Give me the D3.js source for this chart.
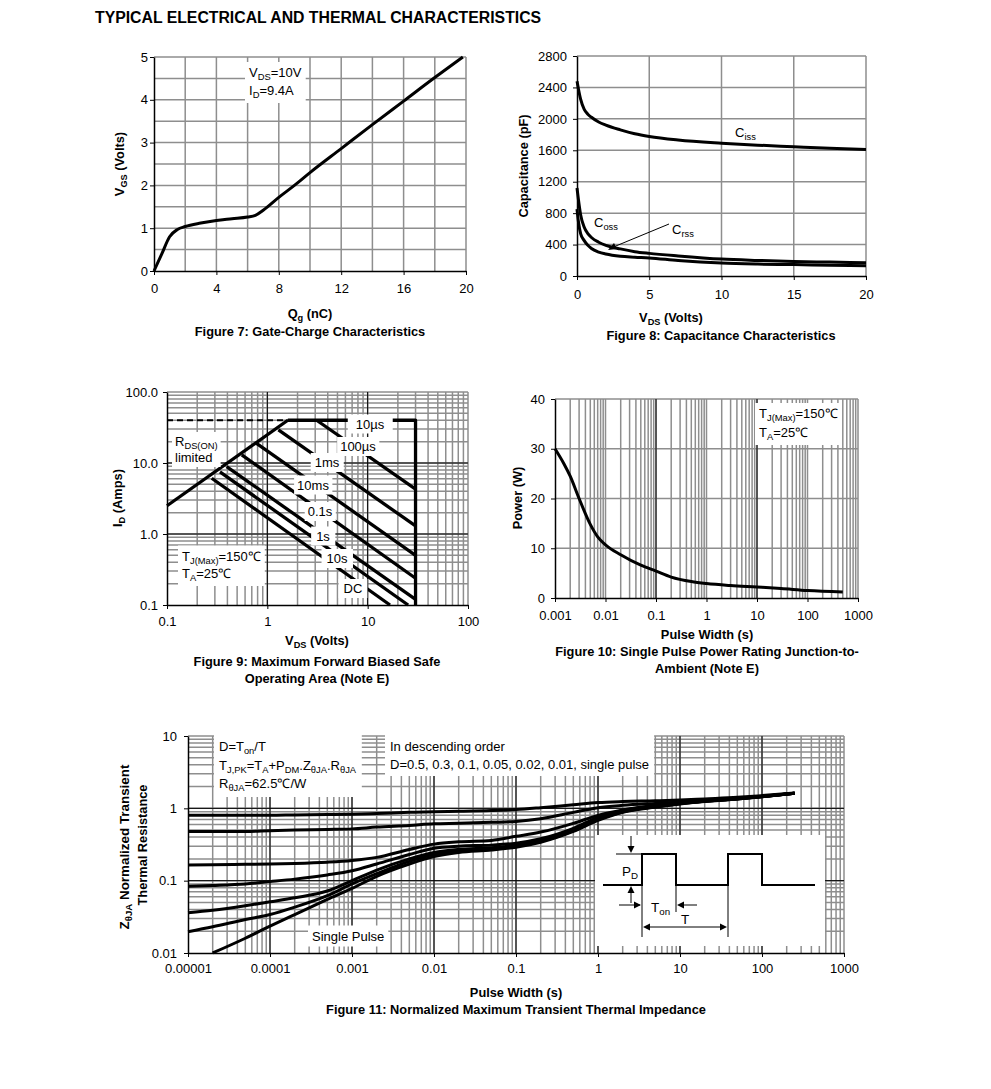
<!DOCTYPE html>
<html>
<head>
<meta charset="utf-8">
<script src="https://cdn.jsdelivr.net/npm/d3@7"></script>
<style>
  body { margin: 0; background: #fff; }
</style>
</head>
<body>
<div id="chart"></div>
<script>
const FONT = "'Liberation Sans', Arial, Helvetica, sans-serif";
const FS = 13;      // normal text
const FB = 12.8;    // bold titles

// ---- Figure 7: gate charge
const qgCharge = [0, 0.5, 1, 1.5, 2, 3, 4, 5, 6, 6.5, 7, 8, 9, 10, 12, 14, 16, 18, 19.8];
const vgsVolts = [0, 0.4, 0.8, 0.97, 1.04, 1.12, 1.18, 1.22, 1.26, 1.3, 1.42, 1.72, 2.0, 2.3, 2.86, 3.42, 3.97, 4.52, 5.0];

// ---- Figure 8: capacitance
const vdsCap = [0, 0.1, 0.25, 0.5, 0.75, 1, 1.5, 2, 3, 4, 5, 7, 10, 12.5, 15, 17.5, 20];
const cissPf = [2480, 2380, 2250, 2120, 2060, 2020, 1960, 1920, 1860, 1810, 1775, 1730, 1690, 1665, 1645, 1625, 1610];
const cossPf = [1120, 970, 780, 620, 540, 490, 430, 390, 345, 310, 288, 255, 215, 198, 185, 177, 170];
const crssPf = [850, 690, 540, 450, 390, 350, 305, 280, 252, 240, 230, 198, 165, 152, 145, 137, 130];

// ---- Figure 9: safe operating area
const rdsV = [0.1, 1.6];
const rdsI = [2.5, 40];
const limitV = [1.6, 30, 30];
const limitI = [40, 40, 0.1];
const dashV = [0.1, 1.6];
const dashI = [40, 40];
const soaNames = ["100µs", "1ms", "10ms", "0.1s", "1s", "10s", "DC"];
const soaStartV = [3.1, 1.29, 0.78, 0.556, 0.393, 0.337, 0.279];
const soaStartI = [40, 29.2, 18.9, 13, 8.9, 7.5, 6.1];
const soaEndV = [30, 30, 30, 30, 30, 25.3, 16.7];
const soaEndI = [4.3, 1.3, 0.5, 0.238, 0.12, 0.1, 0.1];

// ---- Figure 10: single pulse power
const pulseW = [0.001, 0.0015, 0.002, 0.003, 0.005, 0.007, 0.01, 0.02, 0.05, 0.1, 0.2, 0.5, 1, 3, 10, 30, 100, 500];
const powerW = [30, 27, 24.5, 20, 14.8, 12.3, 10.7, 8.7, 6.6, 5.4, 4.2, 3.3, 2.9, 2.5, 2.2, 1.9, 1.5, 1.2];

// ---- Figure 11: transient thermal impedance
const zthT = [1e-5, 2e-5, 5e-5, 1e-4, 2e-4, 5e-4, 1e-3, 2e-3, 5e-3, 1e-2, 2e-2, 5e-2, 0.1, 0.2, 0.5, 1, 2, 5, 10, 20, 50, 100, 250];
const zthD05 = [0.8, 0.8, 0.8, 0.8, 0.81, 0.82, 0.83, 0.85, 0.88, 0.9, 0.91, 0.93, 0.96, 1.02, 1.12, 1.2, 1.24, 1.27, 1.3, 1.35, 1.42, 1.5, 1.63];
const zthD03 = [0.48, 0.48, 0.48, 0.49, 0.5, 0.51, 0.52, 0.55, 0.58, 0.61, 0.62, 0.64, 0.66, 0.72, 0.88, 1.02, 1.1, 1.17, 1.22, 1.28, 1.38, 1.47, 1.62];
const zthD01 = [0.165, 0.166, 0.168, 0.17, 0.173, 0.18, 0.19, 0.21, 0.27, 0.32, 0.345, 0.36, 0.41, 0.47, 0.62, 0.8, 0.95, 1.1, 1.2, 1.27, 1.37, 1.46, 1.62];
const zthD005 = [0.084, 0.086, 0.09, 0.097, 0.105, 0.12, 0.137, 0.17, 0.23, 0.28, 0.3, 0.31, 0.33, 0.38, 0.53, 0.75, 0.93, 1.08, 1.18, 1.26, 1.36, 1.46, 1.62];
const zthD002 = [0.036, 0.039, 0.045, 0.051, 0.058, 0.072, 0.1, 0.14, 0.2, 0.245, 0.27, 0.285, 0.31, 0.36, 0.5, 0.72, 0.9, 1.06, 1.17, 1.25, 1.36, 1.46, 1.62];
const zthD001 = [0.0197, 0.023, 0.029, 0.034, 0.043, 0.062, 0.09, 0.125, 0.185, 0.23, 0.255, 0.27, 0.3, 0.35, 0.49, 0.7, 0.89, 1.05, 1.16, 1.25, 1.35, 1.45, 1.62];
const singleT = [2e-5, 5e-5, 1e-4, 2e-4, 5e-4, 1e-3, 2e-3, 5e-3, 1e-2, 2e-2, 5e-2, 0.1, 0.2, 0.5, 1, 2, 5, 10, 20, 50, 100, 250];
const singleZ = [0.01, 0.016, 0.0235, 0.034, 0.055, 0.078, 0.115, 0.17, 0.215, 0.245, 0.265, 0.29, 0.34, 0.48, 0.68, 0.88, 1.04, 1.15, 1.24, 1.35, 1.45, 1.62];

const svg = d3.select("#chart").append("svg")
  .attr("width", 991).attr("height", 1089)
  .style("font-family", FONT);

svg.append("text").attr("x", 95).attr("y", 23)
  .attr("font-size", 15.8).attr("font-weight", "bold")
  .text("TYPICAL ELECTRICAL AND THERMAL CHARACTERISTICS");

// text with _{subscript} markup
function rich(t, str, size) {
  let shift = 0;
  str.split(/(_\{[^}]*\})/).filter(s => s).forEach(s => {
    const sub = s.startsWith("_{");
    const ts = t.append("tspan").text(sub ? s.slice(2, -1) : s);
    if (sub) {
      ts.attr("font-size", size * 0.72).attr("dy", 3 - shift);
      shift = 3;
    } else if (shift) {
      ts.attr("dy", -shift);
      shift = 0;
    }
  });
}

function addText(g, x, y, str, o = {}) {
  const size = o.size || (o.bold ? FB : FS);
  const t = g.append("text").attr("x", x).attr("y", y)
    .attr("font-size", size)
    .attr("font-weight", o.bold ? "bold" : null)
    .attr("text-anchor", o.anchor || "start");
  if (o.rotate) t.attr("transform", `rotate(-90 ${x} ${y})`);
  rich(t, str, size);
  return t;
}

function boxed(g, x, y, lines, o = {}) {
  const lh = o.lh || 18, pad = o.pad == null ? 3 : o.pad;
  const px = o.padX == null ? pad : o.padX;
  const wrap = g.append("g");
  const bg = wrap.append("rect").attr("fill", "#fff");
  const tg = wrap.append("g");
  lines.forEach((l, i) => addText(tg, x, y + i * lh, l, o));
  const bb = tg.node().getBBox();
  bg.attr("x", bb.x - px).attr("y", bb.y - pad + 1)
    .attr("width", bb.width + 2 * px).attr("height", bb.height + 2 * pad - 2);
}

function panel(c) {
  const g = svg.append("g").attr("transform", `translate(${c.left},${c.top})`);
  const x = c.x.range([0, c.w]);
  const y = c.y.range([c.h, 0]);
  const grid = g.append("g");
  grid.selectAll(".gx").data(c.xGrid).join("line")
    .attr("x1", d => x(d)).attr("x2", d => x(d)).attr("y1", 0).attr("y2", c.h)
    .attr("stroke", "#8e8e8e").attr("stroke-width", 1.5);
  grid.selectAll(".gy").data(c.yGrid).join("line")
    .attr("y1", d => y(d)).attr("y2", d => y(d)).attr("x1", 0).attr("x2", c.w)
    .attr("stroke", "#8e8e8e").attr("stroke-width", 1.5);
  grid.selectAll(".dx").data(c.xDark || []).join("line")
    .attr("x1", d => x(d)).attr("x2", d => x(d)).attr("y1", 0).attr("y2", c.h)
    .attr("stroke", "#000").attr("stroke-width", 1);
  grid.selectAll(".dy").data(c.yDark || []).join("line")
    .attr("y1", d => y(d)).attr("y2", d => y(d)).attr("x1", 0).attr("x2", c.w)
    .attr("stroke", "#000").attr("stroke-width", 1);

  g.append("g").attr("transform", `translate(0,${c.h})`)
    .call(d3.axisBottom(x).tickValues(c.xTicks).tickFormat((d, i) => c.xLabels[i])
      .tickSize(4).tickSizeOuter(0).tickPadding(c.xPad))
    .call(a => a.attr("font-family", FONT).attr("font-size", FS))
    .call(a => a.select(".domain").attr("stroke-width", 1.5));
  g.append("g")
    .call(d3.axisLeft(y).tickValues(c.yTicks).tickFormat((d, i) => c.yLabels[i])
      .tickSize(4).tickSizeOuter(0).tickPadding(c.yPad))
    .call(a => a.attr("font-family", FONT).attr("font-size", FS))
    .call(a => a.select(".domain").attr("stroke-width", 1.5));
  return { g, x, y };
}

function curve(p, xs, ys, w, smooth = true) {
  const line = d3.line().x(d => p.x(d[0])).y(d => p.y(d[1]));
  if (smooth) line.curve(d3.curveMonotoneX);
  return p.g.append("path").datum(d3.zip(xs, ys)).attr("d", line)
    .attr("fill", "none").attr("stroke", "#000").attr("stroke-width", w)
    .attr("stroke-linejoin", "round");
}

const decades = s => s.ticks().filter(v => Math.abs(Math.log10(v) - Math.round(Math.log10(v))) < 1e-9);

// ================= Figure 7 =================
{
  const p = panel({
    left: 154, top: 57, w: 312, h: 214,
    x: d3.scaleLinear().domain([0, 20]), y: d3.scaleLinear().domain([0, 5]),
    xGrid: d3.range(2, 21, 2), yGrid: d3.range(0.5, 5.01, 0.5),
    xTicks: [0, 4, 8, 12, 16, 20], xLabels: ["0", "4", "8", "12", "16", "20"],
    yTicks: [0, 1, 2, 3, 4, 5], yLabels: ["0", "1", "2", "3", "4", "5"],
    xPad: 9, yPad: 2
  });
  boxed(p.g, 95, 20, ["V_{DS}=10V", "I_{D}=9.4A"], { lh: 18, pad: 4 });
  curve(p, qgCharge, vgsVolts, 3);
  addText(svg, 124, 164, "V_{GS} (Volts)", { bold: true, anchor: "middle", rotate: true });
  addText(svg, 310, 318, "Q_{g} (nC)", { bold: true, anchor: "middle" });
  addText(svg, 310, 336, "Figure 7: Gate-Charge Characteristics", { bold: true, anchor: "middle" });
}

// ================= Figure 8 =================
{
  const p = panel({
    left: 577, top: 56, w: 289, h: 220,
    x: d3.scaleLinear().domain([0, 20]), y: d3.scaleLinear().domain([0, 2800]),
    xGrid: [5, 10, 15, 20], yGrid: d3.range(400, 2801, 400),
    xTicks: [0, 5, 10, 15, 20], xLabels: ["0", "5", "10", "15", "20"],
    yTicks: d3.range(0, 2801, 400), yLabels: d3.range(0, 2801, 400).map(String),
    xPad: 10, yPad: 6
  });
  curve(p, vdsCap, cissPf, 3);
  curve(p, vdsCap, cossPf, 3);
  curve(p, vdsCap, crssPf, 3);
  addText(p.g, 158, 81, "C_{iss}");
  addText(p.g, 17, 171, "C_{oss}");
  addText(p.g, 95, 178, "C_{rss}");
  p.g.append("line").attr("x1", 92).attr("y1", 168).attr("x2", 34).attr("y2", 192)
    .attr("stroke", "#000").attr("stroke-width", 1);
  p.g.append("path").attr("d", "M31,194 L37,187 L40,193 Z").attr("fill", "#000");
  addText(svg, 528, 166, "Capacitance (pF)", { bold: true, anchor: "middle", rotate: true });
  addText(svg, 671, 322, "V_{DS} (Volts)", { bold: true, anchor: "middle" });
  addText(svg, 721, 340, "Figure 8: Capacitance Characteristics", { bold: true, anchor: "middle" });
}

// ================= Figure 9 =================
{
  const xs = d3.scaleLog().domain([0.1, 100]);
  const ys = d3.scaleLog().domain([0.1, 100]);
  const p = panel({
    left: 167, top: 392, w: 301, h: 213,
    x: xs, y: ys,
    xGrid: xs.ticks().filter(v => v > 0.1), yGrid: ys.ticks().filter(v => v > 0.1),
    xDark: [1, 10], yDark: [1, 10],
    xTicks: [0.1, 1, 10, 100], xLabels: ["0.1", "1", "10", "100"],
    yTicks: [0.1, 1, 10, 100], yLabels: ["0.1", "1.0", "10.0", "100.0"],
    xPad: 8, yPad: 5
  });
  curve(p, dashV, dashI, 1.8, false).attr("stroke-dasharray", "6,4");
  curve(p, rdsV, rdsI, 3.3, false);
  curve(p, limitV, limitI, 3.3, false);
  soaNames.forEach((n, i) => {
    curve(p, [soaStartV[i], soaEndV[i]], [soaStartI[i], soaEndI[i]], 3.3, false);
  });
  const lab = [[203, 36.5, 8], [191, 59, 3], [160, 75, 4], [146, 97.5, 3], [153, 124, 3], [156, 148.5, 5], [170, 171, 5], [186, 201, 5]];
  ["10µs"].concat(soaNames).forEach((n, i) => {
    boxed(p.g, lab[i][0], lab[i][1], [n], { pad: 3, padX: lab[i][2], anchor: "middle" });
  });
  boxed(p.g, 8, 54, ["R_{DS(ON)}", "limited"], { lh: 16, pad: 3 });
  boxed(p.g, 15, 168.5, ["T_{J(Max)}=150℃", "T_{A}=25℃"], { lh: 17.5, pad: 4 });
  addText(svg, 122, 498, "I_{D} (Amps)", { bold: true, anchor: "middle", rotate: true });
  addText(svg, 317, 645, "V_{DS} (Volts)", { bold: true, anchor: "middle" });
  addText(svg, 317, 666, "Figure 9: Maximum Forward Biased Safe", { bold: true, anchor: "middle" });
  addText(svg, 317, 683, "Operating Area (Note E)", { bold: true, anchor: "middle" });
}

// ================= Figure 10 =================
{
  const xs = d3.scaleLog().domain([0.001, 1000]);
  const p = panel({
    left: 555, top: 399, w: 303, h: 199,
    x: xs, y: d3.scaleLinear().domain([0, 40]),
    xGrid: xs.ticks().filter(v => v > 0.001), yGrid: [10, 20, 30, 40],
    xDark: [0.1, 10],
    xTicks: [0.001, 0.01, 0.1, 1, 10, 100, 1000],
    xLabels: ["0.001", "0.01", "0.1", "1", "10", "100", "1000"],
    yTicks: [0, 10, 20, 30, 40], yLabels: ["0", "10", "20", "30", "40"],
    xPad: 9, yPad: 6
  });
  curve(p, pulseW, powerW, 3);
  boxed(p.g, 204, 19, ["T_{J(Max)}=150℃", "T_{A}=25℃"], { lh: 19, pad: 4 });
  addText(svg, 522, 498, "Power (W)", { bold: true, anchor: "middle", rotate: true });
  addText(svg, 707, 639, "Pulse Width (s)", { bold: true, anchor: "middle" });
  addText(svg, 707, 656, "Figure 10: Single Pulse Power Rating Junction-to-", { bold: true, anchor: "middle" });
  addText(svg, 707, 673, "Ambient (Note E)", { bold: true, anchor: "middle" });
}

// ================= Figure 11 =================
{
  const xs = d3.scaleLog().domain([1e-5, 1000]);
  const ys = d3.scaleLog().domain([0.01, 10]);
  const xt = decades(xs);
  const p = panel({
    left: 188, top: 736, w: 656, h: 217,
    x: xs, y: ys,
    xGrid: xs.ticks().filter(v => v > 1e-5), yGrid: ys.ticks().filter(v => v > 0.01),
    xDark: xt.slice(1, -1), yDark: [0.1, 1],
    xTicks: xt, xLabels: ["0.00001", "0.0001", "0.001", "0.01", "0.1", "1", "10", "100", "1000"],
    yTicks: [0.01, 0.1, 1, 10], yLabels: ["0.01", "0.1", "1", "10"],
    xPad: 7, yPad: 7
  });
  [zthD05, zthD03, zthD01, zthD005, zthD002, zthD001].forEach(z => curve(p, zthT, z, 3));
  curve(p, singleT, singleZ, 3);

  boxed(p.g, 31, 15, ["D=T_{on}/T", "T_{J,PK}=T_{A}+P_{DM}.Z_{θJA}.R_{θJA}", "R_{θJA}=62.5℃/W"], { lh: 18.5, pad: 5 });
  boxed(p.g, 202, 15, ["In descending order", "D=0.5, 0.3, 0.1, 0.05, 0.02, 0.01, single pulse"], { lh: 18, pad: 5 });
  boxed(p.g, 124, 204.5, ["Single Pulse"], { pad: 4 });

  // pulse diagram inset
  const ins = svg.append("g").attr("transform", "translate(595,835)");
  ins.append("rect").attr("x", 0).attr("y", 0).attr("width", 230).attr("height", 111).attr("fill", "#fff");
  ins.append("path").attr("d", "M8,50 H47 V19 H81 V50 H133 V19 H167 V50 H220")
    .attr("fill", "none").attr("stroke", "#000").attr("stroke-width", 2);
  const thin = d => ins.append("path").attr("d", d).attr("fill", "none").attr("stroke", "#000").attr("stroke-width", 1);
  thin("M21,19 H47");
  thin("M47,50 V102 M133,50 V102 M81,50 V77");
  thin("M36,1 V16 M36,68 V53 M24,70 H45 M102,70 H84 M50,92 H130");
  const head = d => ins.append("path").attr("d", d).attr("fill", "#000");
  head("M36,18 L32.5,11 L39.5,11 Z");
  head("M36,51 L32.5,58 L39.5,58 Z");
  head("M46,70 L39,66.5 L39,73.5 Z");
  head("M82,70 L89,66.5 L89,73.5 Z");
  head("M48,92 L55,88.5 L55,95.5 Z");
  head("M132,92 L125,88.5 L125,95.5 Z");
  addText(ins, 27, 41, "P_{D}", { size: 13.5 });
  addText(ins, 56, 77, "T_{on}", { size: 13.5 });
  addText(ins, 86, 89, "T", { size: 13.5 });

  addText(svg, 129, 847, "Z_{θJA} Normalized Transient", { bold: true, anchor: "middle", rotate: true, size: 13.4 });
  addText(svg, 147, 845, "Thermal Resistance", { bold: true, anchor: "middle", rotate: true });
  addText(svg, 516, 997, "Pulse Width (s)", { bold: true, anchor: "middle" });
  addText(svg, 516, 1014, "Figure 11: Normalized Maximum Transient Thermal Impedance", { bold: true, anchor: "middle" });
}
</script>
</body>
</html>
